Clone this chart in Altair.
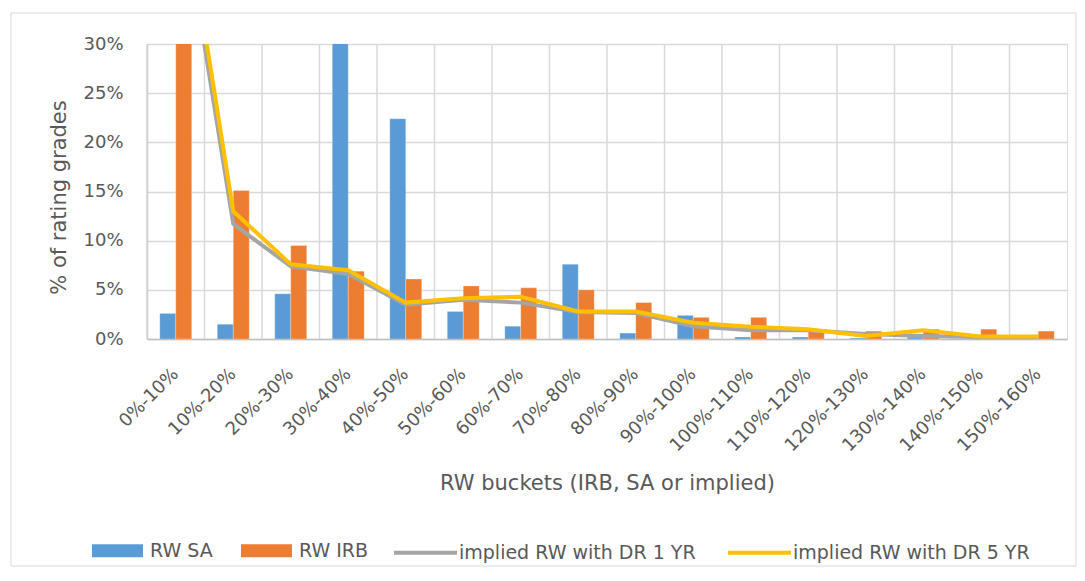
import altair as alt
import pandas as pd

categories = ["0%-10%", "10%-20%", "20%-30%", "30%-40%", "40%-50%", "50%-60%",
              "60%-70%", "70%-80%", "80%-90%", "90%-100%", "100%-110%", "110%-120%",
              "120%-130%", "130%-140%", "140%-150%", "150%-160%"]
bar_series = ["RW SA", "RW IRB"]
line_series = ["implied RW with DR 1 YR", "implied RW with DR 5 YR"]

# values in percent
rw_sa = [2.6, 1.5, 4.6, 38.0, 22.4, 2.8, 1.3, 7.6, 0.6, 2.4, 0.2, 0.2, 0.1, 0.2, 0.0, 0.0]
rw_irb = [40.0, 15.1, 9.5, 6.9, 6.1, 5.4, 5.2, 5.0, 3.7, 2.2, 2.2, 1.0, 0.8, 1.0, 1.0, 0.8]
dr_1yr = [48.0, 11.7, 7.4, 6.6, 3.5, 4.0, 3.7, 2.75, 2.65, 1.3, 0.9, 0.9, 0.5, 0.3, 0.2, 0.2]
dr_5yr = [50.0, 13.0, 7.6, 7.0, 3.7, 4.15, 4.3, 2.8, 2.8, 1.65, 1.25, 1.0, 0.3, 0.9, 0.25, 0.25]

y_ticks = [0, 0.05, 0.10, 0.15, 0.20, 0.25, 0.30]

FONT = "DejaVu Sans"
TXT = "#595959"
GRID = "#d9d9d9"

bars_df = pd.DataFrame(
    [{"cat": c, "series": bar_series[0], "value": v / 100} for c, v in zip(categories, rw_sa)]
    + [{"cat": c, "series": bar_series[1], "value": v / 100} for c, v in zip(categories, rw_irb)]
)
lines_df = pd.DataFrame(
    [{"cat": c, "series": line_series[0], "value": v / 100} for c, v in zip(categories, dr_1yr)]
    + [{"cat": c, "series": line_series[1], "value": v / 100} for c, v in zip(categories, dr_5yr)]
)
cats_df = pd.DataFrame({"cat": categories})
frame_df = pd.DataFrame({"k": [0]})

x_axis = alt.Axis(
    title="RW buckets (IRB, SA or implied)",
    labelAngle=-45, labelAlign="right", labelBaseline="middle",
    labelFont=FONT, labelFontSize=18, labelColor=TXT, labelPadding=32,
    ticks=False, tickSize=0, grid=False,
    domainColor="#bfbfbf", domainWidth=1.5,
    titleFont=FONT, titleFontSize=21, titleFontWeight="normal", titleColor=TXT,
    titleBaseline="alphabetic", titleY=150,
    labelOverlap=False,
)
x_enc = alt.X("cat:N", sort=categories, axis=x_axis,
              scale=alt.Scale(paddingInner=0, paddingOuter=0))

y_axis = alt.Axis(
    title="% of rating grades", format=".0%", values=y_ticks,
    labelFont=FONT, labelFontSize=18, labelColor=TXT, labelPadding=24,
    ticks=False, tickSize=0, grid=True, gridColor=GRID, gridWidth=1.5,
    domainColor="#bfbfbf", domainWidth=1.5,
    titleFont=FONT, titleFontSize=21, titleFontWeight="normal", titleColor=TXT,
    titleAngle=-90, titleBaseline="alphabetic", titleX=-82, titleY=153, titleAlign="center",
)
y_enc = alt.Y("value:Q", axis=y_axis, scale=alt.Scale(domain=[0, 0.30], nice=False, zero=True))

frame = alt.Chart(frame_df).mark_rect(fill=None, stroke="#d9d9d9", strokeWidth=1).encode(
    x=alt.value(-136), x2=alt.value(929), y=alt.value(-31), y2=alt.value(522)
)

vgrid = alt.Chart(cats_df).mark_rule(color=GRID, strokeWidth=1.5).encode(
    x=alt.X("cat:N", sort=categories, bandPosition=0, axis=x_axis,
            scale=alt.Scale(paddingInner=0, paddingOuter=0))
)

bars = alt.Chart(bars_df).mark_bar(clip=True, stroke="white", strokeWidth=0.5, strokeOpacity=0.5).encode(
    x=x_enc,
    xOffset=alt.XOffset("series:N", sort=bar_series,
                        scale=alt.Scale(paddingInner=0, paddingOuter=0.8)),
    y=y_enc,
    color=alt.Color("series:N", sort=bar_series,
                    scale=alt.Scale(domain=bar_series, range=["#5b9bd5", "#ed7d31"]),
                    legend=alt.Legend(
                        orient="none", legendX=-55, legendY=481, direction="horizontal",
                        title=None, symbolType="M-1,-0.255H1V0.255H-1Z", symbolSize=2601,
                        symbolStrokeWidth=0, symbolOpacity=1,
                        labelFont=FONT, labelFontSize=19, labelColor=TXT, labelLimit=400,
                        labelOffset=7, columnPadding=28, padding=0,
                    )),
)

lines = alt.Chart(lines_df).mark_line(clip=True, strokeWidth=4).encode(
    x=x_enc,
    y=y_enc,
    stroke=alt.Stroke("series:N", sort=line_series,
                      scale=alt.Scale(domain=line_series, range=["#a5a5a5", "#ffc000"]),
                      legend=alt.Legend(
                          orient="none", legendX=245, legendY=475, direction="horizontal",
                          title=None, symbolType="stroke", symbolSize=3969,
                          symbolStrokeWidth=4, labelLimit=400,
                          labelFont=FONT, labelFontSize=19, labelColor=TXT,
                          labelOffset=0, columnPadding=24, padding=0,
                      )),
)

chart = alt.layer(frame, vgrid, bars, lines).properties(
    width=920, height=295,
    padding={"left": 2, "top": 4, "right": 0, "bottom": 0},
).configure_view(stroke=GRID, strokeWidth=1.5).configure(background="white")

chart.save("out.html", embed_options={"renderer": "svg", "actions": False})
